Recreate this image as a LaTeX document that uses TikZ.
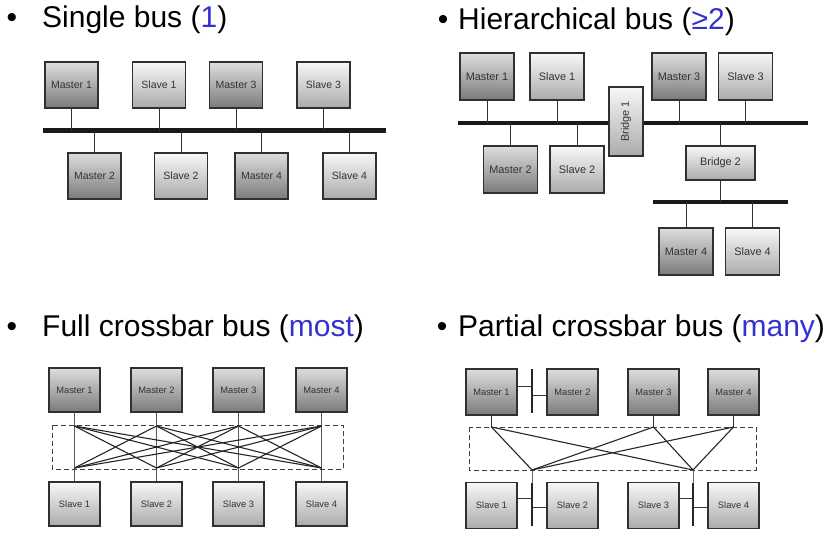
\documentclass[tikz,border=0pt]{standalone}
\usepackage{fontspec}
\setmainfont{Liberation Sans}
\usepackage{tikz}
\usetikzlibrary{calc,shadings}
\pgfdeclarelayer{background}
\pgfsetlayers{background,main}
\definecolor{boxline}{HTML}{303030}
\definecolor{countblue}{HTML}{3333CC}
\tikzset{
   unitsize/.style={minimum width=53pt, minimum height=46pt},
   unitfont/.style={font=\fontsize{10.5}{12}\selectfont},
   unit/.style={draw=boxline, line width=1.3pt, unitsize, inner sep=0pt, unitfont, text=black!80},
   master/.style={unit, top color=black!13, bottom color=black!52},
   slave/.style={unit, top color=black!3, bottom color=black!33},
   bridge/.style={unit, top color=black!3, bottom color=black!33},
   bus/.style={line width=4.5pt, black!90},
   stub/.style={line width=1pt, black!80},
   bar/.style={line width=2.4pt, black!85},
   cross/.style={line width=1.1pt, black!85},
   xbox/.style={draw=black!75, line width=1pt, dash pattern=on 5pt off 3pt},
   heading/.style={anchor=base west, font=\fontsize{30}{36}\selectfont, inner sep=0pt},
   dot/.style={anchor=base, font=\fontsize{30}{36}\selectfont, inner sep=0pt}
}

\begin{document}
\begin{tikzpicture}[x=1pt,y=-1pt]
\useasboundingbox (0,0) rectangle (833,543);

% headings
\node[dot] (d1) at (12,28) {•};
\node[heading] (h1) at (42,28) {Single bus (\textcolor{countblue}{1})};
\node[dot] (d2) at (443,30) {•};
\node[heading] (h2) at (458,30) {Hierarchical bus (\textcolor{countblue}{≥2})};
\node[dot] (d3) at (12,336) {•};
\node[heading] (h3) at (42,336) {Full crossbar bus (\textcolor{countblue}{most})};
\node[dot] (d4) at (442,336) {•};
\node[heading] (h4) at (458,336) {Partial crossbar bus (\textcolor{countblue}{many})};

% single bus
\node[master] (m1) at (71.5,85) {Master 1};
\node[slave]  (s1) at (159,85) {Slave 1};
\node[master] (m3) at (236,85) {Master 3};
\node[slave]  (s3) at (323.5,85) {Slave 3};
\node[master] (m2) at (94.5,176) {Master 2};
\node[slave]  (s2) at (181,176) {Slave 2};
\node[master] (m4) at (261.5,176) {Master 4};
\node[slave]  (s4) at (349.5,176) {Slave 4};
\coordinate (busA) at (43,130.5);
\coordinate (busB) at (386,130.5);
\begin{pgfonlayer}{background}
  \draw[bus] (busA) -- (busB);
  \foreach \n in {m1,s1,m3,s3,m2,s2,m4,s4}
    \draw[stub] (\n) -- (\n |- busA);
\end{pgfonlayer}

% hierarchical bus
\begin{scope}[unitsize/.style={minimum width=54pt, minimum height=47pt},
              unitfont/.style={font=\fontsize{10.9}{12}\selectfont}]
\node[master] (hm1) at (487,76.5) {Master 1};
\node[slave]  (hs1) at (557,76.5) {Slave 1};
\node[master] (hm3) at (679,76.5) {Master 3};
\node[slave]  (hs3) at (745.5,76.5) {Slave 3};
\node[master] (hm2) at (510.5,169.5) {Master 2};
\node[slave]  (hs2) at (577,169.5) {Slave 2};
\node[master] (hm4) at (686,251.5) {Master 4};
\node[slave]  (hs4) at (752.5,251.5) {Slave 4};
\node[bridge, rotate=90, minimum width=69pt, minimum height=34pt] (hb1) at (626,121.5) {Bridge 1};
\node[bridge, minimum width=69pt, minimum height=34pt] (hb2) at (720.5,163) {Bridge 2};
\end{scope}
\coordinate (hbusA) at (458,123);
\coordinate (hbusB) at (808,123);
\coordinate (lbusA) at (653,202);
\coordinate (lbusB) at (788,202);
\begin{pgfonlayer}{background}
  \draw[bus] (hbusA) -- (hbusB);
  \draw[bus] (lbusA) -- (lbusB);
  \foreach \n in {hm1,hs1,hm3,hs3,hm2,hs2,hb2}
    \draw[stub] (\n) -- (\n |- hbusA);
  \foreach \n in {hb2,hm4,hs4}
    \draw[stub] (\n) -- (\n |- lbusA);
\end{pgfonlayer}

% full crossbar
\begin{scope}[unitsize/.style={minimum width=51pt, minimum height=44pt},
              unitfont/.style={font=\fontsize{9.3}{11}\selectfont}]
\foreach \i/\x in {1/74.5,2/156.5,3/238.5,4/321.5} {
  \node[master] (fm\i) at (\x,390) {Master \i};
  \node[slave]  (fs\i) at (\x,504) {Slave \i};
  \coordinate (ft\i) at (\x,426);
  \coordinate (fb\i) at (\x,468);
}
\end{scope}
\draw[xbox] (52,425) rectangle (343,469);
\begin{pgfonlayer}{background}
  \foreach \i in {1,...,4}
    \draw[stub, black!65] (fm\i) -- (fs\i);
\end{pgfonlayer}
\foreach \i in {1,...,4}
  \foreach \j in {1,...,4} {
    \ifnum\i=\j\else \draw[cross] (ft\i) -- (fb\j); \fi
  }

% partial crossbar
\begin{scope}[unitsize/.style={minimum width=51pt, minimum height=46pt},
              unitfont/.style={font=\fontsize{9.3}{11}\selectfont}]
\foreach \i/\x in {1/491.5,2/572.5,3/653.5,4/733.5} {
  \node[master] (pm\i) at (\x,392) {Master \i};
  \node[slave]  (ps\i) at (\x,505.5) {Slave \i};
}
\end{scope}
\draw[xbox] (469,427) rectangle (756,470);
\coordinate (pbarT) at (532,369);
\coordinate (pbarB) at (532,413);
\coordinate (pj1) at (532,386);
\coordinate (pj2) at (532,395);
\draw[bar] (pbarT) -- (pbarB);
\draw[stub] (pm1.east |- pj1) -- (pj1);
\draw[stub] (pj2) -- (pm2.west |- pj2);
\foreach \i in {1,3,4} {
  \coordinate (pt\i) at (pm\i |- 0,427);
  \draw[stub] (pm\i) -- (pt\i);
}
\foreach \k/\a/\b/\x in {1/1/2/532,2/3/4/693} {
  \coordinate (pb\k) at (\x,470);
  \coordinate (qT\k) at (\x,483);
  \coordinate (qB\k) at (\x,526);
  \coordinate (qj\k) at (\x,498);
  \coordinate (qk\k) at (\x,507);
  \draw[stub, black!60] (pb\k) -- (qT\k);
  \draw[bar] (qT\k) -- (qB\k);
  \draw[stub] (ps\a.east |- qj\k) -- (qj\k);
  \draw[stub] (qk\k) -- (ps\b.west |- qk\k);
}
\foreach \i in {1,3,4}
  \foreach \k in {1,2}
    \draw[cross] (pt\i) -- (pb\k);
\end{tikzpicture}
\end{document}
